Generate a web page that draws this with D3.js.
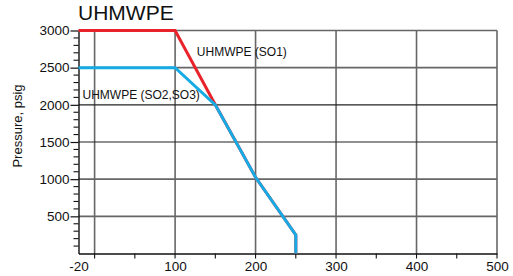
<!DOCTYPE html>
<html>
<head>
<meta charset="utf-8">
<script src="https://cdn.jsdelivr.net/npm/d3@7"></script>
<style>
  body { margin: 0; background: #fff; }
  svg text { font-family: "Liberation Sans", Arial, sans-serif; fill: #111; }
</style>
</head>
<body>
<svg id="chart" width="513" height="276"></svg>
<script>
// Data
const so1Temps = [-20, 100, 150, 200, 250, 250];
const so1Pressure = [3000, 3000, 2000, 1025, 250, 0];
const so23Temps = [-20, 100, 150, 200, 250, 250];
const so23Pressure = [2500, 2500, 2000, 1025, 250, 0];

const xTickLabels = [-20, 100, 200, 300, 400, 500];
const xMinorTicks = [50, 150, 250, 350, 450];
const xGrid = [0, 100, 200, 300, 400, 500];
const yTickLabels = [500, 1000, 1500, 2000, 2500, 3000];

const svg = d3.select("#chart");

const x = d3.scaleLinear().domain([-20, 500]).range([78.5, 497]);
const y = d3.scaleLinear().domain([0, 3000]).range([253.5, 30.5]);

// plain numbers, ascii hyphen for the minus
const fmt = (d) => String(d);

// Grid lines
const grid = svg.append("g").attr("class", "grid");
grid
  .selectAll("line.v")
  .data(xGrid)
  .enter()
  .append("line")
  .attr("class", "v")
  .attr("x1", (d) => x(d))
  .attr("x2", (d) => x(d))
  .attr("y1", y(3000))
  .attr("y2", y(0))
  .attr("stroke", (d) => (d % 200 === 100 ? "#222" : "#666"))
  .attr("stroke-width", (d) => (d % 200 === 100 ? 1.1 : 1.6));

grid
  .selectAll("line.h")
  .data(yTickLabels)
  .enter()
  .append("line")
  .attr("class", "h")
  .attr("x1", x(-20))
  .attr("x2", x(500))
  .attr("y1", (d) => y(d))
  .attr("y2", (d) => y(d))
  .attr("stroke", (d) => (d === 1500 || d === 2000 ? "#222" : "#666"))
  .attr("stroke-width", (d) => (d === 1500 || d === 2000 ? 1.1 : 1.6));

// Left axis: labels + major ticks, minor ticks every 100
const yAxis = d3
  .axisLeft(y)
  .tickValues(yTickLabels)
  .tickFormat(fmt)
  .tickSize(8)
  .tickSizeOuter(0)
  .tickPadding(1);
const yG = svg
  .append("g")
  .attr("transform", `translate(${x(-20)},0)`)
  .call(yAxis);
yG.select(".domain").attr("stroke", "#111").attr("stroke-width", 1.4);
yG.selectAll(".tick line").attr("stroke", "#111").attr("stroke-width", 1.2);
yG.selectAll(".tick text")
  .attr("font-size", "13.5px")
  .attr("font-family", "Liberation Sans, Arial, sans-serif")
  .attr("fill", "#111");

const yMinor = d3.range(100, 3000, 100).filter((v) => v % 500 !== 0);
svg
  .append("g")
  .selectAll("line")
  .data(yMinor)
  .enter()
  .append("line")
  .attr("x1", x(-20) - 5)
  .attr("x2", x(-20))
  .attr("y1", (d) => y(d))
  .attr("y2", (d) => y(d))
  .attr("stroke", "#111")
  .attr("stroke-width", 1.1);

// Bottom axis
const xAxis = d3
  .axisBottom(x)
  .tickValues(xTickLabels)
  .tickFormat(fmt)
  .tickSize(0)
  .tickPadding(8);
const xG = svg
  .append("g")
  .attr("transform", `translate(0,${y(0)})`)
  .call(xAxis);
xG.select(".domain").attr("stroke", "#111").attr("stroke-width", 1.4);
xG.selectAll(".tick text")
  .attr("font-size", "13.5px")
  .attr("font-family", "Liberation Sans, Arial, sans-serif")
  .attr("fill", "#111");

svg
  .append("g")
  .selectAll("line")
  .data(xMinorTicks.concat(xGrid))
  .enter()
  .append("line")
  .attr("x1", (d) => x(d))
  .attr("x2", (d) => x(d))
  .attr("y1", y(0))
  .attr("y2", y(0) + 5)
  .attr("stroke", "#111")
  .attr("stroke-width", 1.1);

// Series lines
const line = d3
  .line()
  .x((d) => x(d[0]))
  .y((d) => y(d[1]));

svg
  .append("path")
  .datum(so1Temps.map((t, i) => [t, so1Pressure[i]]))
  .attr("d", line)
  .attr("fill", "none")
  .attr("stroke", "#e8232b")
  .attr("stroke-width", 3);

svg
  .append("path")
  .datum(so23Temps.map((t, i) => [t, so23Pressure[i]]))
  .attr("d", line)
  .attr("fill", "none")
  .attr("stroke", "#17abe6")
  .attr("stroke-width", 3);

// Labels
svg
  .append("text")
  .attr("x", 78)
  .attr("y", 20)
  .attr("font-size", "21px")
  .text("UHMWPE");

svg
  .append("text")
  .attr("x", x(127))
  .attr("y", 56)
  .attr("font-size", "12px")
  .text("UHMWPE (SO1)");

svg
  .append("text")
  .attr("x", 82.5)
  .attr("y", 98.5)
  .attr("font-size", "12px")
  .text("UHMWPE (SO2,SO3)");

svg
  .append("text")
  .attr("transform", "translate(22,126) rotate(-90)")
  .attr("text-anchor", "middle")
  .attr("font-size", "13px")
  .text("Pressure, psig");
</script>
</body>
</html>
